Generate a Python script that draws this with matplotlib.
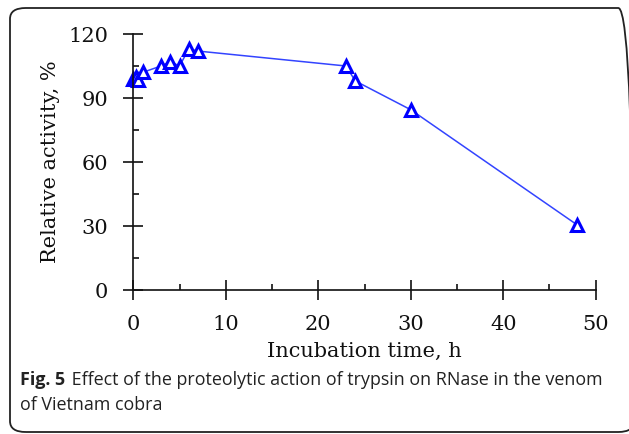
import matplotlib.pyplot as plt
from matplotlib.patches import FancyBboxPatch
from matplotlib.ticker import MultipleLocator

# incubation time (h) and relative activity (%)
hours = [0, 0.25, 0.5, 1, 3, 4, 5, 6, 7, 23, 24, 30, 48]
activity = [99, 100, 98.5, 102, 105, 107, 105, 113, 112, 105, 98, 84.5, 30.5]

x_label = "Incubation time, h"
y_label = "Relative activity, %"
caption_bold = "Fig. 5"
caption_rest = " Effect of the proteolytic action of trypsin on RNase in the venom"
caption_line2 = "of Vietnam cobra"

W, H = 629, 434
fig = plt.figure(figsize=(W / 100, H / 100), dpi=100)

# rounded frame around the figure
frame = FancyBboxPatch((10 / W, 2 / H), 624 / W, (H - 10) / H,
                       boxstyle="round,pad=0,rounding_size=0.025",
                       transform=fig.transFigure, fill=False,
                       edgecolor="#222222", linewidth=1.3, clip_on=False)
fig.patches.append(frame)

ax = fig.add_axes([133.3 / W, (H - 290) / H, (595.7 - 133.3) / W, (290 - 34) / H])
ax.plot(hours, activity, color="#3344ff", linewidth=1.1, marker="^",
        markersize=8.5, markerfacecolor="white", markeredgecolor="#0000ff",
        markeredgewidth=2.2, clip_on=False)

ax.set_xlim(0, 50)
ax.set_ylim(0, 120)
for s in ["top", "right"]:
    ax.spines[s].set_visible(False)
for s in ["left", "bottom"]:
    ax.spines[s].set_linewidth(1.2)
    ax.spines[s].set_color("#111111")

ax.xaxis.set_major_locator(MultipleLocator(10))
ax.xaxis.set_minor_locator(MultipleLocator(5))
ax.yaxis.set_major_locator(MultipleLocator(30))
ax.yaxis.set_minor_locator(MultipleLocator(15))
ax.tick_params(which="major", direction="inout", length=14, width=1.2, color="#111111")
ax.tick_params(which="minor", direction="in", length=4, width=1.2, color="#111111")
ax.tick_params(axis="y", which="major", pad=11)
ax.tick_params(axis="x", which="major", pad=11)

serif = "DejaVu Serif"
for lab in ax.get_xticklabels() + ax.get_yticklabels():
    lab.set_fontfamily(serif)
    lab.set_fontsize(15)
    lab.set_color("#111111")

ax.set_xlabel(x_label, fontfamily=serif, fontsize=15, labelpad=6, color="#111111")
ax.set_ylabel(y_label, fontfamily=serif, fontsize=15, labelpad=6, color="#111111")

fig.text(20 / W, 1 - 385 / H, caption_bold, fontfamily="Open Sans", fontweight="bold",
         fontsize=12.9, color="#222222", va="baseline")
fig.text(67 / W, 1 - 385 / H, caption_rest, fontfamily="Open Sans",
         fontsize=12.9, color="#222222", va="baseline")
fig.text(20 / W, 1 - 410 / H, caption_line2, fontfamily="Open Sans",
         fontsize=12.9, color="#222222", va="baseline")

fig.savefig("out.png", dpi=100)
